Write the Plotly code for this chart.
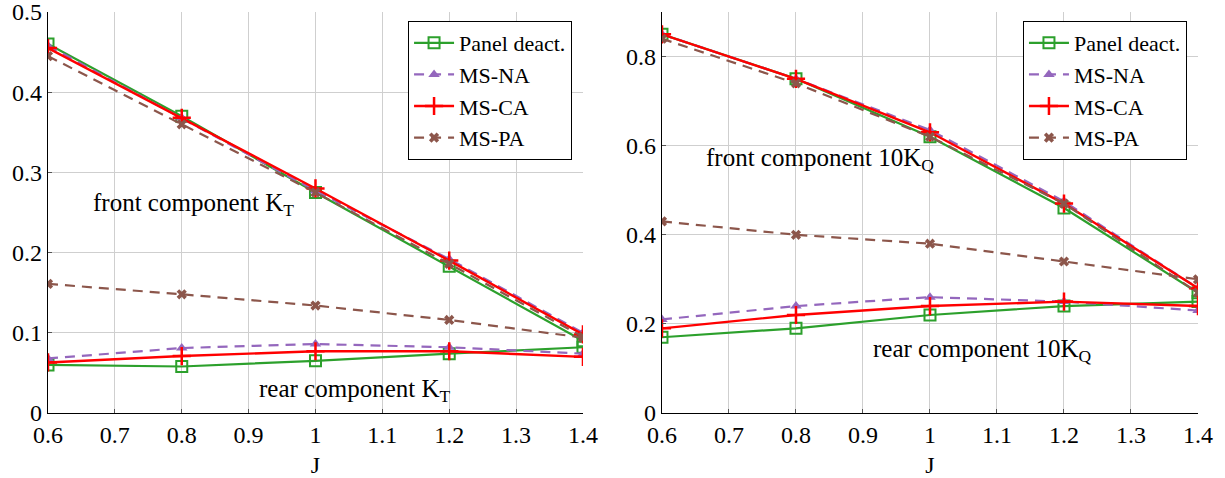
import plotly.graph_objects as go

J = [0.6, 0.8, 1.0, 1.2, 1.4]

# Left panel: K_T
kt_front = {
    "Panel deact.": [0.460, 0.370, 0.275, 0.183, 0.090],
    "MS-NA": [0.458, 0.368, 0.277, 0.192, 0.100],
    "MS-CA": [0.455, 0.368, 0.280, 0.190, 0.098],
    "MS-PA": [0.445, 0.360, 0.275, 0.186, 0.095],
}
kt_rear = {
    "Panel deact.": [0.060, 0.058, 0.065, 0.074, 0.082],
    "MS-NA": [0.068, 0.081, 0.086, 0.082, 0.074],
    "MS-CA": [0.063, 0.071, 0.077, 0.077, 0.070],
    "MS-PA": [0.161, 0.148, 0.134, 0.116, 0.094],
}

# Right panel: 10K_Q
kq_front = {
    "Panel deact.": [0.850, 0.750, 0.620, 0.460, 0.270],
    "MS-NA": [0.850, 0.750, 0.635, 0.475, 0.280],
    "MS-CA": [0.850, 0.750, 0.630, 0.470, 0.280],
    "MS-PA": [0.840, 0.740, 0.620, 0.470, 0.270],
}
kq_rear = {
    "Panel deact.": [0.170, 0.190, 0.220, 0.240, 0.250],
    "MS-NA": [0.210, 0.240, 0.260, 0.250, 0.230],
    "MS-CA": [0.190, 0.220, 0.240, 0.250, 0.240],
    "MS-PA": [0.430, 0.400, 0.380, 0.340, 0.300],
}

series = ["Panel deact.", "MS-NA", "MS-CA", "MS-PA"]
x_ticks = [0.6, 0.7, 0.8, 0.9, 1.0, 1.1, 1.2, 1.3, 1.4]
x_ticklabels = ["0.6", "0.7", "0.8", "0.9", "1", "1.1", "1.2", "1.3", "1.4"]
y1_ticks = [0, 0.1, 0.2, 0.3, 0.4, 0.5]
y1_ticklabels = ["0", "0.1", "0.2", "0.3", "0.4", "0.5"]
y2_ticks = [0, 0.2, 0.4, 0.6, 0.8]
y2_ticklabels = ["0", "0.2", "0.4", "0.6", "0.8"]

FONT = "Liberation Serif"
FS_TICK = 24
FS_ANN = 25
FS_LEG = 22

styles = {
    "Panel deact.": dict(line=dict(color="#2ca02c", width=2.2),
                         marker=dict(symbol="square-open", size=11, color="#2ca02c",
                                     line=dict(width=2, color="#2ca02c"))),
    "MS-NA": dict(line=dict(color="#9467bd", width=2.2, dash="10px,7px"),
                  marker=dict(symbol="triangle-up", size=10, color="#9467bd")),
    "MS-CA": dict(line=dict(color="#ff0000", width=2.4),
                  marker=dict(symbol="cross-thin", size=13, color="#ff0000",
                              line=dict(width=2.5, color="#ff0000"))),
    "MS-PA": dict(line=dict(color="#8c564b", width=2.2, dash="10px,7px"),
                  marker=dict(symbol="x", size=9, color="#8c564b",
                              line=dict(width=0))),
}

fig = go.Figure()
for xa, ya, leg, front, rear in [("x", "y", "legend", kt_front, kt_rear),
                                 ("x2", "y2", "legend2", kq_front, kq_rear)]:
    for s in series:
        st = styles[s]
        fig.add_trace(go.Scatter(x=J, y=front[s], name=s, mode="lines+markers",
                                 xaxis=xa, yaxis=ya, legend=leg, showlegend=True,
                                 line=st["line"], marker=st["marker"]))
        fig.add_trace(go.Scatter(x=J, y=rear[s], name=s, mode="lines+markers",
                                 xaxis=xa, yaxis=ya, legend=leg, showlegend=False,
                                 line=st["line"], marker=st["marker"]))

axis_common = dict(showgrid=True, gridcolor="#cfcfcf", gridwidth=1,
                   showline=True, linecolor="black", linewidth=1.3,
                   ticks="inside", ticklen=4, tickcolor="#555555",
                   tickfont=dict(family=FONT, size=FS_TICK, color="black"),
                   zeroline=False, automargin=False, ticklabeloverflow="allow")

legend_common = dict(xanchor="right", y=0.9776, yanchor="top",
                     bgcolor="white", bordercolor="black", borderwidth=1,
                     itemwidth=40,
                     font=dict(family=FONT, size=FS_LEG, color="black"))

fig.update_layout(
    width=1225, height=478,
    margin=dict(l=48, r=27, t=12, b=65),
    plot_bgcolor="white", paper_bgcolor="white",
    font=dict(family=FONT, size=FS_TICK, color="black"),
    xaxis=dict(domain=[0, 0.4652], range=[0.6, 1.4], tickvals=x_ticks,
               ticktext=x_ticklabels, anchor="y",
               title=dict(text="J", font=dict(family=FONT, size=FS_TICK)),
               **axis_common),
    yaxis=dict(domain=[0, 1], range=[0, 0.5], tickvals=y1_ticks,
               ticktext=y1_ticklabels, anchor="x", **axis_common),
    xaxis2=dict(domain=[0.5339, 1], range=[0.6, 1.4], tickvals=x_ticks,
                ticktext=x_ticklabels, anchor="y2",
                title=dict(text="J", font=dict(family=FONT, size=FS_TICK)),
                **axis_common),
    yaxis2=dict(domain=[0, 1], range=[0, 0.9], tickvals=y2_ticks,
                ticktext=y2_ticklabels, anchor="x2", **axis_common),
    legend=dict(x=0.4557, **legend_common),
    legend2=dict(x=0.9904, **legend_common),
    showlegend=True,
)

annots = [
    ("x", "y", 0.664, 0.260, "front component K<sub>T</sub>"),
    ("x", "y", 0.913, 0.028, "rear component K<sub>T</sub>"),
    ("x2", "y2", 0.663, 0.570, "front component 10K<sub>Q</sub>"),
    ("x2", "y2", 0.912, 0.140, "rear component 10K<sub>Q</sub>"),
]
for xr, yr, ax, ay, txt in annots:
    fig.add_annotation(x=ax, y=ay, xref=xr, yref=yr, text=txt, showarrow=False,
                       xanchor="left", yanchor="middle",
                       font=dict(family=FONT, size=FS_ANN, color="black"))

fig.write_html("out.html")
